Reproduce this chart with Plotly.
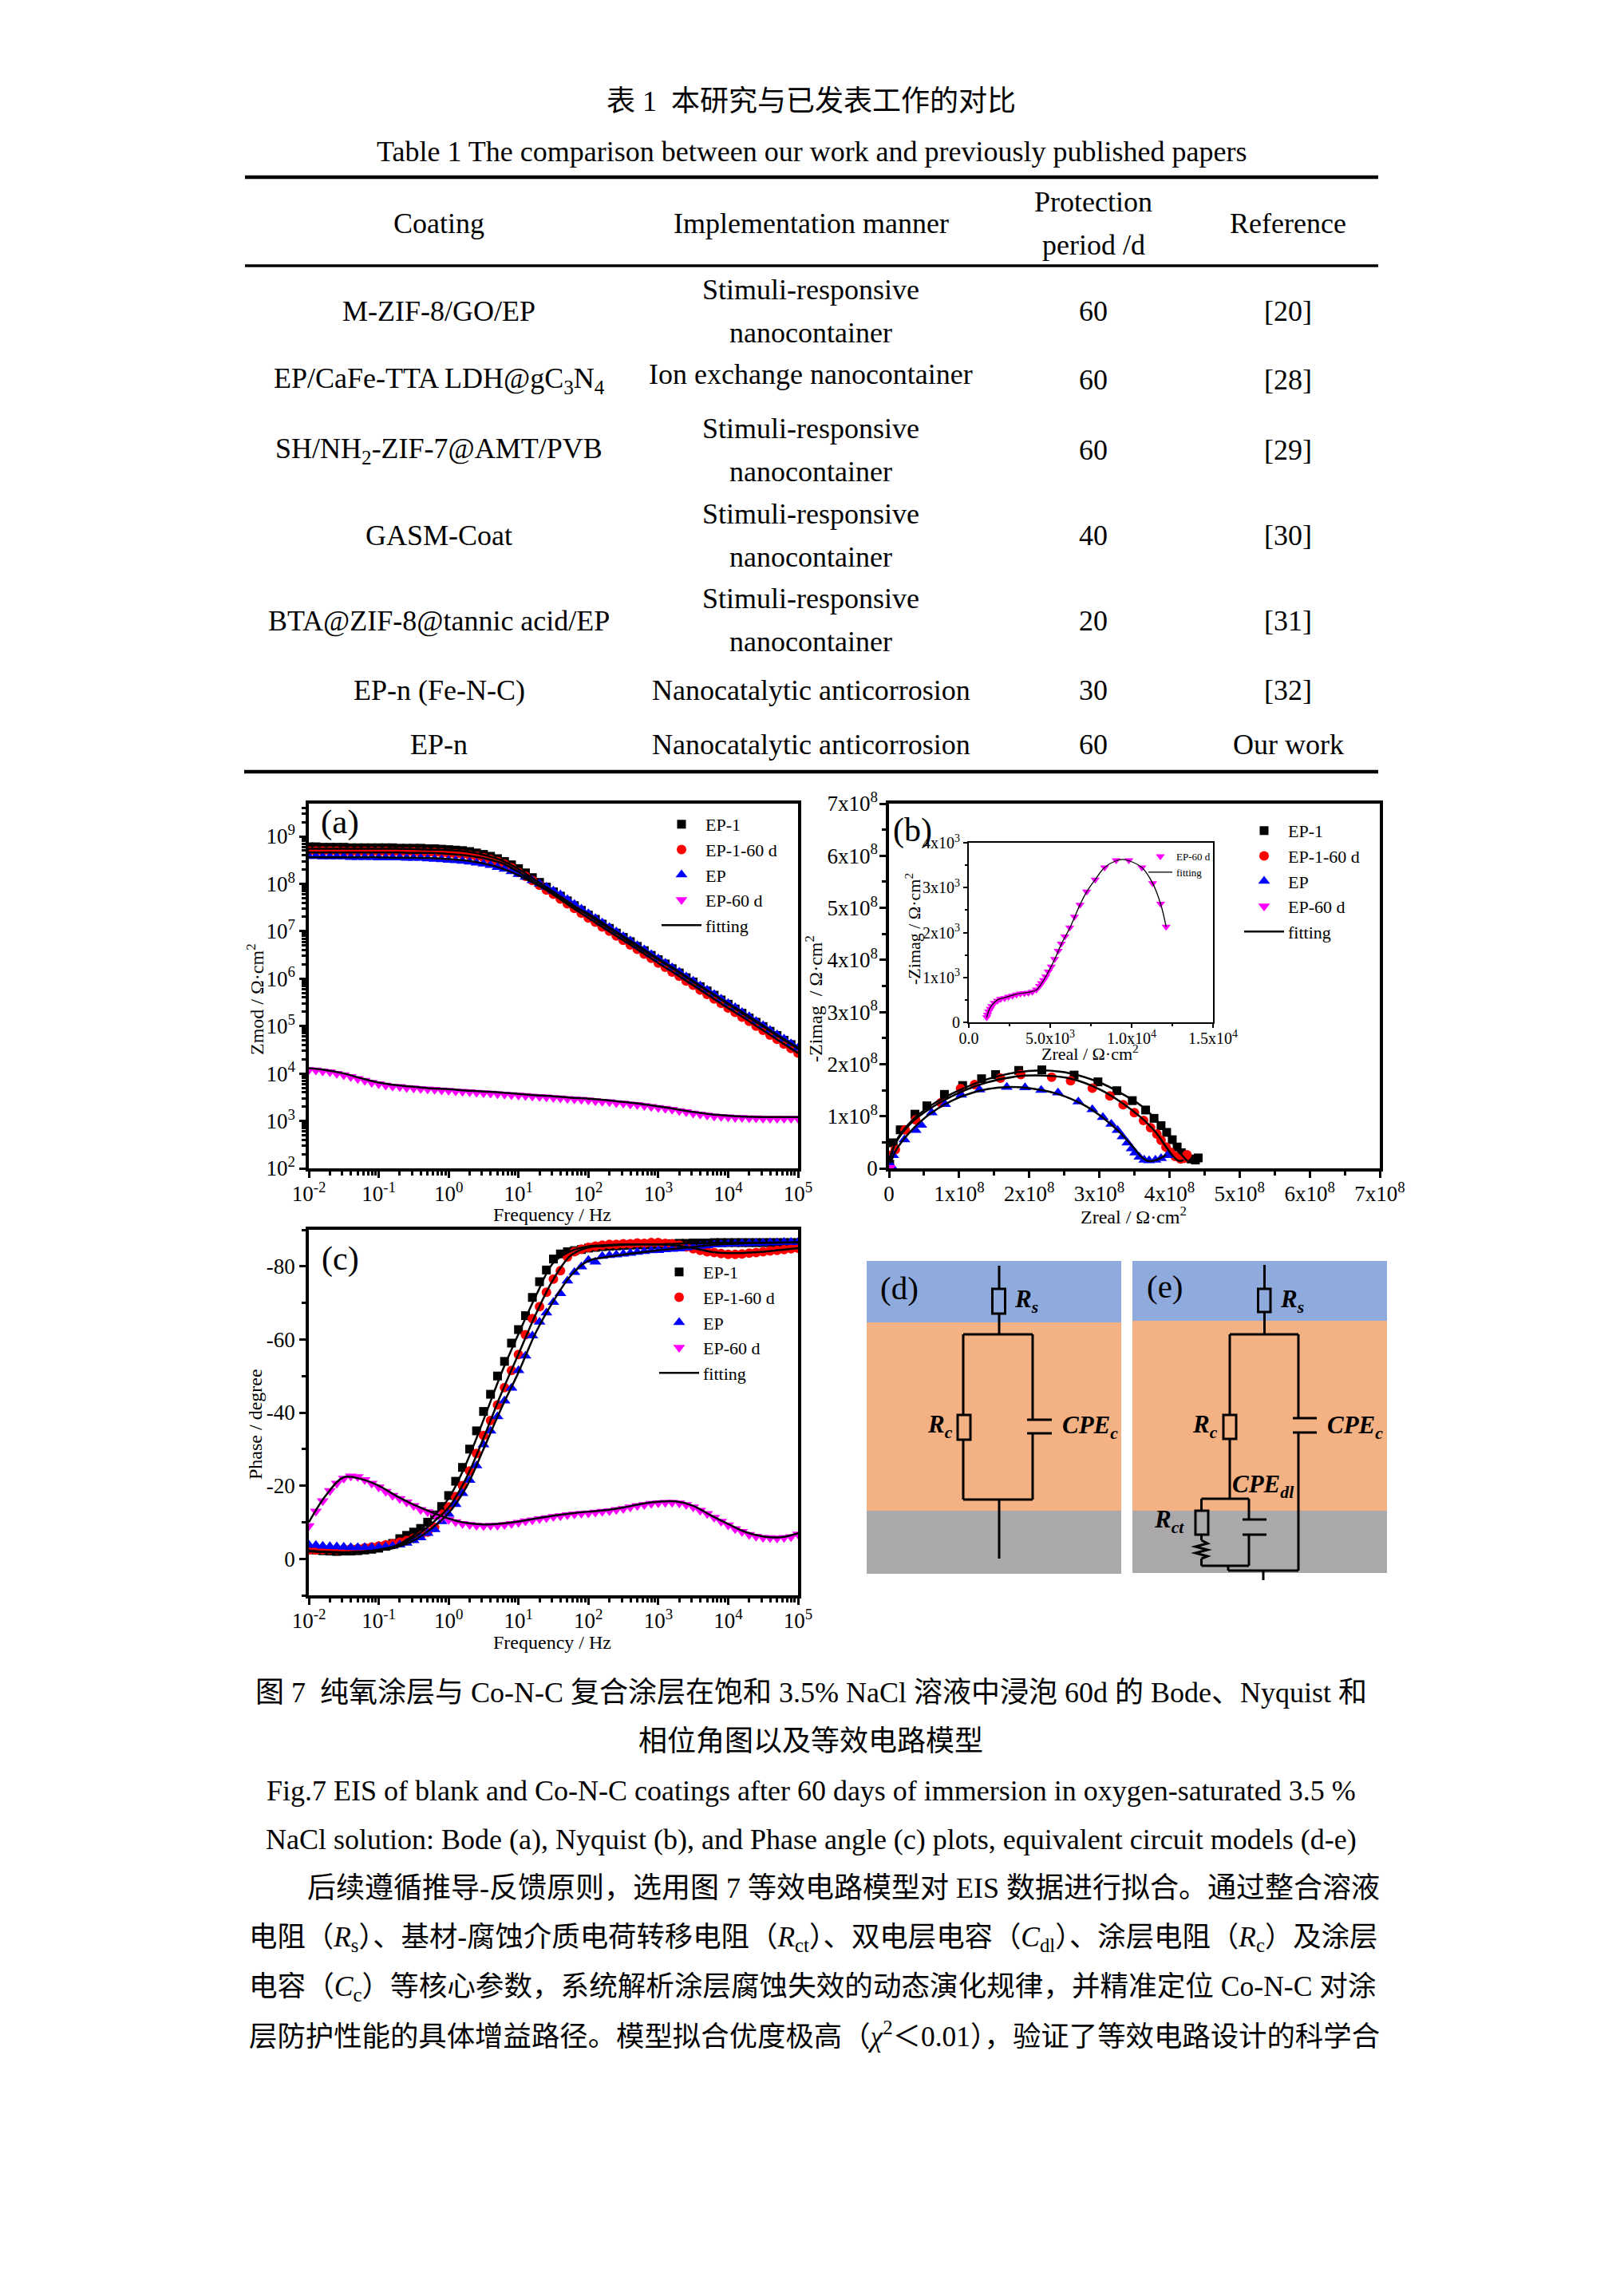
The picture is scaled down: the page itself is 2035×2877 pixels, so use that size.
import plotly.graph_objects as go

W, H = 2035, 2877
SERIF = "Liberation Serif, Times New Roman, Noto Sans CJK SC, serif"
CJK = "Liberation Serif, Noto Sans CJK SC, sans-serif"

# ---------------- chart data ----------------
FREQ = [0.01,0.0126,0.0158,0.02,0.0251,0.0316,0.0398,0.0501,0.0631,0.0794,
        0.1,0.126,0.158,0.2,0.251,0.316,0.398,0.501,0.631,0.794,
        1,1.26,1.58,2,2.51,3.16,3.98,5.01,6.31,7.94,
        10,12.6,15.8,20,25.1,31.6,39.8,50.1,63.1,79.4,
        100,126,158,200,251,316,398,501,631,794,
        1000,1260,1580,2000,2510,3160,3980,5010,6310,7940,
        10000,12600,15800,20000,25100,31600,39800,50100,63100,79400,100000]
FREQ_FIT = [0.01,0.0178,0.0316,0.0562,0.1,0.178,0.316,0.562,1,1.78,3.16,5.62,10,17.8,31.6,56.2,
            100,178,316,562,1000,1780,3160,5620,10000,17800,31600,56200,100000]

# (a) log10 |Z|
LOGZ_EP1 = [8.78,8.78,8.77,8.77,8.77,8.77,8.76,8.76,8.76,8.76,8.76,8.76,8.76,8.75,8.75,8.75,8.75,8.74,8.74,8.73,
            8.72,8.71,8.70,8.68,8.65,8.62,8.58,8.53,8.47,8.40,8.32,8.23,8.13,8.03,7.93,7.83,7.74,7.64,7.54,7.44,
            7.34,7.25,7.15,7.06,6.96,6.87,6.78,6.68,6.59,6.49,6.40,6.31,6.21,6.12,6.02,5.93,5.83,5.74,5.65,5.55,
            5.46,5.36,5.27,5.17,5.08,4.99,4.89,4.80,4.70,4.61,4.52]
LOGZ_EP160 = [8.69,8.69,8.69,8.69,8.69,8.68,8.68,8.68,8.68,8.68,8.68,8.68,8.67,8.67,8.67,8.67,8.66,8.66,8.66,8.65,
              8.64,8.63,8.62,8.60,8.58,8.55,8.51,8.47,8.41,8.34,8.24,8.16,8.07,7.97,7.87,7.78,7.68,7.58,7.48,7.38,
              7.28,7.19,7.09,7.00,6.90,6.81,6.71,6.62,6.52,6.43,6.33,6.24,6.14,6.05,5.95,5.86,5.76,5.67,5.57,5.48,
              5.38,5.29,5.19,5.10,5.00,4.91,4.81,4.72,4.62,4.53,4.43]
LOGZ_EP = [8.58,8.58,8.57,8.57,8.57,8.57,8.56,8.56,8.56,8.56,8.55,8.55,8.55,8.55,8.54,8.54,8.54,8.53,8.52,8.51,
           8.50,8.49,8.48,8.46,8.44,8.42,8.39,8.35,8.31,8.26,8.20,8.14,8.07,8.00,7.93,7.85,7.77,7.67,7.57,7.47,
           7.37,7.27,7.18,7.08,6.99,6.89,6.80,6.70,6.61,6.51,6.42,6.33,6.23,6.14,6.04,5.95,5.85,5.76,5.67,5.57,
           5.48,5.39,5.29,5.20,5.10,5.01,4.91,4.82,4.73,4.63,4.54]
LOGZ_EP60 = [4.08,4.07,4.05,4.03,4.00,3.97,3.93,3.89,3.85,3.81,3.78,3.75,3.73,3.72,3.70,3.69,3.68,3.67,3.66,3.65,
             3.64,3.63,3.62,3.61,3.60,3.59,3.58,3.57,3.56,3.55,3.54,3.53,3.52,3.51,3.50,3.49,3.48,3.47,3.46,3.45,
             3.44,3.42,3.41,3.40,3.38,3.37,3.35,3.34,3.32,3.30,3.28,3.26,3.24,3.21,3.19,3.16,3.14,3.12,3.10,3.09,
             3.08,3.07,3.07,3.06,3.06,3.05,3.05,3.05,3.05,3.05,3.05]
FIT_LOGZ_EP1 = [8.74,8.74,8.74,8.74,8.74,8.74,8.73,8.72,8.71,8.68,8.61,8.50,8.31,8.07,7.83,7.58,7.34,7.10,6.87,6.63,6.40,6.17,5.93,5.70,5.46,5.22,4.99,4.75,4.52]
FIT_LOGZ_EP160 = [8.66,8.66,8.66,8.66,8.66,8.66,8.65,8.65,8.63,8.60,8.54,8.44,8.25,8.02,7.77,7.52,7.28,7.04,6.81,6.57,6.33,6.10,5.86,5.62,5.38,5.15,4.91,4.67,4.43]
FIT_LOGZ_EP = [8.56,8.56,8.56,8.56,8.56,8.55,8.55,8.54,8.52,8.49,8.43,8.33,8.18,7.99,7.79,7.55,7.37,7.13,6.89,6.66,6.42,6.19,5.95,5.71,5.48,5.25,5.01,4.77,4.54]
FIT_LOGZ_EP60 = [4.11,4.07,4.00,3.90,3.81,3.755,3.72,3.685,3.67,3.64,3.62,3.60,3.57,3.54,3.52,3.49,3.47,3.44,3.40,3.36,3.31,3.25,3.19,3.14,3.11,3.09,3.08,3.08,3.08]

# (b) Nyquist, units of 1e8
B_X_EP1 = [0.01,0.06,0.16,0.37,0.54,0.79,1.05,1.32,1.52,1.85,2.18,2.64,2.98,3.25,3.47,3.66,3.78,3.88,3.96,4.04,4.11,4.17,4.24,4.31,4.37,4.41]
B_Y_EP1 = [0.08,0.49,0.74,1.04,1.20,1.42,1.59,1.72,1.80,1.88,1.89,1.79,1.66,1.49,1.30,1.12,0.96,0.82,0.69,0.55,0.41,0.30,0.22,0.18,0.16,0.20]
B_X_EP160 = [0.01,0.09,0.23,0.38,0.74,1.02,1.22,1.59,1.88,2.32,2.59,2.90,3.15,3.34,3.50,3.63,3.73,3.82,3.88,3.95,4.01,4.08,4.16,4.21,4.25]
B_Y_EP160 = [0.25,0.36,0.74,0.93,1.26,1.53,1.61,1.73,1.80,1.75,1.68,1.54,1.39,1.22,1.07,0.92,0.78,0.66,0.54,0.41,0.31,0.23,0.18,0.19,0.26]
B_X_EP = [0.03,0.06,0.22,0.38,0.46,0.61,0.80,1.03,1.29,1.68,1.94,2.17,2.41,2.70,2.90,3.05,3.17,3.26,3.33,3.40,3.46,3.51,3.57,3.64,3.71,3.80,3.88,3.97]
B_Y_EP = [0.05,0.25,0.55,0.73,0.83,1.07,1.23,1.41,1.51,1.56,1.55,1.50,1.45,1.28,1.13,0.98,0.85,0.73,0.61,0.49,0.38,0.30,0.22,0.16,0.15,0.16,0.19,0.25]
FIT_B_X_EP1 = [0.01,0.10,0.30,0.60,1.00,1.40,1.80,2.20,2.60,3.00,3.30,3.60,3.80,4.00,4.10,4.20,4.25,4.30]
FIT_B_Y_EP1 = [0.15,0.52,0.88,1.21,1.50,1.71,1.84,1.88,1.82,1.65,1.45,1.20,0.95,0.60,0.38,0.22,0.15,0.12]
FIT_B_X_EP160 = [0.01,0.10,0.30,0.60,1.00,1.40,1.80,2.20,2.60,3.00,3.30,3.60,3.80,4.00,4.10,4.15,4.20]
FIT_B_Y_EP160 = [0.20,0.50,0.85,1.16,1.45,1.65,1.76,1.78,1.72,1.52,1.28,0.97,0.70,0.32,0.17,0.14,0.16]
FIT_B_X_EP = [0.02,0.10,0.30,0.60,1.00,1.40,1.70,2.00,2.40,2.80,3.10,3.30,3.50,3.60,3.70,3.85,3.95]
FIT_B_Y_EP = [0.10,0.35,0.70,1.06,1.36,1.52,1.56,1.54,1.43,1.20,0.92,0.68,0.38,0.22,0.14,0.18,0.26]

# (b) inset, EP-60 d, units of 1e3
IN_X = [1.10,1.15,1.22,1.32,1.41,1.56,1.76,1.95,2.20,2.44,2.68,2.93,3.17,3.41,3.66,3.90,4.15,4.34,4.46,4.59,4.73,4.88,5.07,5.27,5.49,5.68,5.90,6.20,6.49,6.83,7.24,7.76,8.34,9.05,9.83,10.63,11.29,11.78,12.12]
IN_Y = [0.11,0.17,0.24,0.30,0.36,0.43,0.48,0.52,0.54,0.57,0.59,0.62,0.64,0.65,0.66,0.68,0.73,0.81,0.87,0.94,1.02,1.13,1.24,1.41,1.59,1.75,1.91,2.11,2.35,2.62,2.91,3.18,3.45,3.61,3.61,3.45,3.10,2.64,2.13]
FIT_IN_X = [1.10,1.22,1.41,1.76,2.20,2.93,3.66,4.15,4.46,4.88,5.27,5.68,6.20,6.83,7.24,7.76,8.34,9.05,9.45,9.83,10.63,11.29,11.78,12.12]
FIT_IN_Y = [0.10,0.26,0.38,0.50,0.55,0.63,0.67,0.72,0.86,1.12,1.40,1.74,2.10,2.62,2.91,3.18,3.45,3.60,3.63,3.60,3.45,3.10,2.64,2.13]

# (c) phase, degrees
PH_EP1 = [-2.6,-2.4,-2.2,-2.1,-2.0,-2.1,-2.1,-2.2,-2.4,-2.6,-2.9,-3.4,-4.2,-5.5,-6.4,-7.3,-8.3,-10.0,-12.0,-14.3,
          -17.3,-21.2,-25.0,-30.0,-35.0,-40.3,-45.0,-50.0,-54.0,-59.0,-62.7,-66.5,-71.5,-75.8,-79.0,-82.0,-83.4,-84.0,-84.3,-84.6,
          -85.0,-85.2,-85.4,-85.5,-85.6,-85.7,-85.8,-85.9,-85.9,-86.0,-86.0,-86.1,-86.2,-86.3,-86.3,-86.4,-86.4,-86.4,-86.5,-86.5,
          -86.5,-86.5,-86.5,-86.5,-86.5,-86.5,-86.5,-86.5,-86.5,-86.5,-86.5]
PH_EP160 = [-2.4,-2.4,-2.5,-2.5,-2.5,-2.6,-2.7,-2.8,-3.0,-3.2,-3.5,-3.8,-4.1,-4.5,-5.0,-5.6,-6.4,-7.3,-8.6,-12.2,
            -14.2,-17.0,-20.0,-24.0,-28.8,-33.7,-37.8,-42.1,-46.8,-51.5,-55.9,-61.3,-65.7,-69.0,-72.9,-76.5,-78.8,-82.6,-84.0,-84.7,
            -85.2,-85.5,-85.8,-86.0,-86.0,-86.2,-86.2,-86.4,-86.3,-86.5,-86.5,-86.3,-86.2,-85.8,-85.3,-84.8,-84.4,-84.0,-83.8,-83.5,
            -83.3,-83.3,-83.4,-83.6,-83.8,-84.0,-84.2,-84.4,-84.6,-84.8,-85.0]
PH_EP = [-3.8,-3.7,-3.5,-3.4,-3.3,-3.2,-3.1,-3.1,-3.1,-3.1,-3.2,-3.3,-3.5,-3.8,-4.3,-5.0,-5.8,-7.0,-8.0,-10.2,
         -12.2,-14.9,-17.9,-21.5,-25.5,-31.2,-35.0,-38.9,-43.2,-46.7,-51.5,-55.5,-61.0,-64.8,-67.3,-70.2,-72.6,-76.0,-78.4,-79.9,
         -81.7,-81.2,-82.8,-83.0,-83.2,-83.4,-83.6,-83.9,-84.1,-84.3,-84.4,-84.6,-84.7,-84.8,-85.1,-85.3,-85.5,-85.7,-85.9,-86.0,
         -86.1,-86.2,-86.3,-86.3,-86.4,-86.4,-86.5,-86.5,-86.6,-86.6,-86.6]
PH_EP60 = [-9.0,-13.0,-15.8,-18.6,-20.6,-22.0,-22.6,-22.4,-21.6,-20.6,-19.6,-18.4,-17.3,-16.4,-15.5,-14.5,-13.4,-12.8,-12.1,-11.3,
           -10.7,-10.1,-9.6,-9.3,-9.1,-9.0,-9.1,-9.1,-9.3,-9.6,-9.9,-10.3,-10.6,-10.9,-11.2,-11.5,-11.7,-12.0,-12.2,-12.4,
           -12.5,-12.7,-12.9,-13.1,-13.4,-13.7,-14.1,-14.5,-14.8,-15.1,-15.3,-15.4,-15.4,-15.2,-14.8,-14.1,-13.2,-12.3,-11.3,-10.2,
           -9.2,-8.2,-7.4,-6.6,-6.1,-5.8,-5.7,-5.6,-5.8,-6.0,-6.7]
FIT_PH_EP1 = [-2.2,-1.8,-1.7,-1.9,-2.5,-3.6,-6.5,-11.0,-16.5,-26.0,-38.0,-50.5,-61.5,-72.0,-81.0,-84.2,-85.5,-85.8,-86.0,-86.0,-86.0,-86.2,-86.3,-86.4,-86.5,-86.5,-86.5,-86.5,-86.5]
FIT_PH_EP160 = [-2.0,-1.8,-1.7,-1.9,-2.4,-3.4,-5.8,-9.5,-14.0,-22.0,-33.0,-45.0,-56.0,-67.0,-76.5,-83.0,-85.2,-85.6,-85.9,-86.0,-86.0,-85.7,-85.0,-84.0,-83.6,-83.7,-84.0,-84.5,-85.0]
FIT_PH_EP = [-2.2,-1.9,-1.8,-1.9,-2.3,-3.1,-5.0,-8.2,-12.5,-19.5,-30.0,-41.0,-51.0,-62.0,-70.5,-77.5,-81.5,-82.5,-83.2,-83.8,-84.4,-84.8,-85.3,-85.8,-86.1,-86.3,-86.4,-86.5,-86.6]
FIT_PH_EP60 = [-10.0,-17.5,-22.3,-21.8,-20.0,-17.2,-14.8,-12.8,-11.0,-9.8,-9.4,-9.6,-10.2,-11.0,-11.8,-12.4,-12.9,-13.3,-14.0,-15.0,-15.6,-15.7,-14.5,-11.9,-9.5,-7.3,-6.1,-5.9,-7.0]

SERIES = ["EP-1", "EP-1-60 d", "EP", "EP-60 d"]
COLORS = ["#000000", "#FF0000", "#0000FF", "#FF00FF"]
SYMBOLS = ["square", "circle", "triangle-up", "triangle-down"]

# ---------------- page text ----------------
COATING = ["M-ZIF-8/GO/EP", "EP/CaFe-TTA LDH@gC<sub>3</sub>N<sub>4</sub>", "SH/NH<sub>2</sub>-ZIF-7@AMT/PVB", "GASM-Coat",
           "BTA@ZIF-8@tannic acid/EP", "EP-n (Fe-N-C)", "EP-n"]
MANNER = ["Stimuli-responsive<br>nanocontainer", "Ion exchange nanocontainer", "Stimuli-responsive<br>nanocontainer",
          "Stimuli-responsive<br>nanocontainer", "Stimuli-responsive<br>nanocontainer", "Nanocatalytic anticorrosion",
          "Nanocatalytic anticorrosion"]
PERIOD = ["60", "60", "60", "40", "20", "30", "60"]
REFS = ["[20]", "[28]", "[29]", "[30]", "[31]", "[32]", "Our work"]

ROW_Y = [390, 476, 564, 671, 778, 865, 933]
MANNER_Y = [[363, 417], [469], [537, 591], [644, 698], [750, 804], [865], [933]]
COL_X = [550, 1016, 1370, 1614]

def px(x): return x / W
def py(y): return 1 - y / H

anns, shapes = [], []
def text(x, y, s, size=36, anchor="center", font=SERIF, color="#000", **kw):
    anns.append(dict(x=px(x), y=py(y), xref="paper", yref="paper", text=s, showarrow=False,
                     xanchor=anchor, yanchor="middle", font=dict(family=font, size=size, color=color), **kw))
def line(x0, y0, x1, y1, w=3):
    shapes.append(dict(type="line", xref="paper", yref="paper", x0=px(x0), y0=py(y0), x1=px(x1), y1=py(y1),
                       line=dict(color="#000", width=w)))
def rect(x0, y0, x1, y1, fill=None, w=3):
    shapes.append(dict(type="rect", xref="paper", yref="paper", x0=px(x0), y0=py(y0), x1=px(x1), y1=py(y1),
                       fillcolor=fill if fill else "rgba(0,0,0,0)",
                       line=dict(color="#000", width=w) if not fill else dict(width=0)))

# table
text(1016, 127, "表 1  本研究与已发表工作的对比", font=CJK, size=36)
text(1017, 190, "Table 1 The comparison between our work and previously published papers")
line(307, 222, 1727, 222, 4.5)
line(307, 333, 1727, 333, 3.5)
line(306, 967, 1727, 967, 4.5)
text(COL_X[0], 280, "Coating")
text(COL_X[1], 280, "Implementation manner")
text(COL_X[2], 253, "Protection")
text(COL_X[2], 307, "period /d")
text(COL_X[3], 280, "Reference")
for i in range(7):
    text(COL_X[0], ROW_Y[i], COATING[i])
    for y, s in zip(MANNER_Y[i], MANNER[i].split("<br>")):
        text(COL_X[1], y, s)
    text(COL_X[2], ROW_Y[i], PERIOD[i])
    text(COL_X[3], ROW_Y[i], REFS[i])

# captions
text(1016, 2121, "图 7  纯氧涂层与 Co-N-C 复合涂层在饱和 3.5% NaCl 溶液中浸泡 60d 的 Bode、Nyquist 和", font=CJK)
text(1016, 2182, "相位角图以及等效电路模型", font=CJK)
text(1016, 2244, "Fig.7 EIS of blank and Co-N-C coatings after 60 days of immersion in oxygen-saturated 3.5 %")
text(1016, 2305, "NaCl solution: Bode (a), Nyquist (b), and Phase angle (c) plots, equivalent circuit models (d-e)")
text(383, 2366, "后续遵循推导-反馈原则，选用图 7 等效电路模型对 EIS 数据进行拟合。通过整合溶液", anchor="left", font=CJK, size=36)
text(310, 2429, "电阻（<i>R</i><sub>s</sub>）、基材-腐蚀介质电荷转移电阻（<i>R</i><sub>ct</sub>）、双电层电容（<i>C</i><sub>dl</sub>）、涂层电阻（<i>R</i><sub>c</sub>）及涂层", anchor="left", font=CJK, size=35.4)
text(310, 2491, "电容（<i>C</i><sub>c</sub>）等核心参数，系统解析涂层腐蚀失效的动态演化规律，并精准定位 Co-N-C 对涂", anchor="left", font=CJK, size=35.6)
text(310, 2549, "层防护性能的具体增益路径。模型拟合优度极高（<i>χ</i><sup>2</sup>＜0.01），验证了等效电路设计的科学合", anchor="left", font=CJK, size=35.4)

# panel letters and axis titles
text(426, 1030, "(a)", size=43)
text(1143, 1040, "(b)", size=42)
text(426, 1577, "(c)", size=42)
TT = 24
text(692, 1522, "Frequency / Hz", size=TT)
text(692, 2058, "Frequency / Hz", size=TT)
text(1420, 1523, "Zreal / Ω·cm<sup>2</sup>", size=TT)
text(320, 1252, "Zmod / Ω·cm<sup>2</sup>", size=TT, textangle=-90)
text(1020, 1252, "-Zimag  / Ω·cm<sup>2</sup>", size=TT, textangle=-90)
text(320, 1785, "Phase / degree", size=TT, textangle=-90)
text(1366, 1319, "Zreal / Ω·cm<sup>2</sup>", size=22)
text(1144, 1164, "-Zimag / Ω·cm<sup>2</sup>", size=22, textangle=-90)

# circuit models (d), (e): coloured bands
BLUE, ORANGE, GRAY = "#8FAADC", "#F4B183", "#AAA8AA"
for x0, x1, y1, y2, y3 in [(1086, 1405, 1657, 1893, 1972), (1419, 1738, 1655, 1893, 1971)]:
    rect(x0, 1580, x1, y1, BLUE)
    rect(x0, y1, x1, y2, ORANGE)
    rect(x0, y2, x1, y3, GRAY)
# (d)
line(1252, 1586, 1252, 1615); rect(1243.5, 1615, 1259.5, 1646); line(1252, 1646, 1252, 1672)
line(1207, 1672, 1294, 1672); line(1207, 1672, 1207, 1773); rect(1200, 1773, 1216, 1804)
line(1207, 1804, 1207, 1879); line(1207, 1879, 1294, 1879)
line(1294, 1672, 1294, 1779); line(1287, 1779, 1318, 1779); line(1287, 1796, 1318, 1796); line(1294, 1796, 1294, 1879)
line(1252, 1879, 1252, 1953)
# (e)
line(1584.5, 1585, 1584.5, 1615); rect(1576.5, 1615, 1592, 1644); line(1584.5, 1644, 1584.5, 1672)
line(1541, 1672, 1627, 1672); line(1541, 1672, 1541, 1773); rect(1533, 1773, 1549, 1803); line(1541, 1803, 1541, 1878)
line(1627, 1672, 1627, 1777); line(1620, 1777, 1650, 1777); line(1620, 1795, 1650, 1795); line(1627, 1795, 1627, 1968)
line(1539, 1968, 1627, 1968); line(1583, 1968, 1583, 1980); line(1539, 1962, 1539, 1968)
line(1505.5, 1878, 1565, 1878); line(1505.5, 1878, 1505.5, 1893); rect(1498, 1893, 1514, 1923)
line(1505.5, 1923, 1505.5, 1930)
shapes.append(dict(type="path", xref="paper", yref="paper",
                   path="M %f,%f " % (px(1505.5), py(1930)) + " ".join(
                       "L %f,%f" % (px(a), py(b)) for a, b in
                       [(1513, 1934), (1498, 1938), (1513, 1942), (1498, 1946), (1513, 1950), (1505.5, 1953)]),
                   line=dict(color="#000", width=3)))
line(1505.5, 1953, 1505.5, 1962); line(1505.5, 1962, 1565, 1962)
line(1565, 1878, 1565, 1904); line(1557, 1904, 1587, 1904); line(1557, 1923, 1587, 1923); line(1565, 1923, 1565, 1962)

def lab(x, y, base, sub):
    text(x, y, "<b><i>%s<sub>%s</sub></i></b>" % (base, sub), size=31, anchor="left")
text(1127, 1614, "(d)", size=41)
text(1460, 1612, "(e)", size=41)
lab(1269, 1630, "R", "s"); lab(1160, 1787, "R", "c"); lab(1329, 1788, "CPE", "c")
lab(1602, 1630, "R", "s"); lab(1492, 1787, "R", "c"); lab(1661, 1788, "CPE", "c")
lab(1542, 1862, "CPE", "dl"); lab(1444, 1906, "R", "ct")

# ---------------- figure ----------------
fig = go.Figure()

def add_sets(xs_list, ys_list, fit_x_list, fit_y_list, xa, ya, legend, msize, fit_w):
    for i in range(len(xs_list)):
        fig.add_trace(go.Scatter(x=xs_list[i], y=ys_list[i], mode="markers", name=SERIES[i], xaxis=xa, yaxis=ya,
                                 legend=legend,
                                 marker=dict(symbol=SYMBOLS[i], color=COLORS[i], size=msize[i], line=dict(width=0))))
    for i in range(len(fit_x_list)):
        fig.add_trace(go.Scatter(x=fit_x_list[i], y=fit_y_list[i], mode="lines", name="fitting", xaxis=xa, yaxis=ya,
                                 legend=legend, showlegend=(i == len(fit_x_list) - 1),
                                 line=dict(color="#000", width=fit_w, shape="spline")))

def p10(a): return [10 ** v for v in a]
def e8(a): return [v * 1e8 for v in a]
def e3(a): return [v * 1e3 for v in a]

MS = [11, 12, 13, 13]
add_sets([FREQ] * 4, [p10(LOGZ_EP1), p10(LOGZ_EP160), p10(LOGZ_EP), p10(LOGZ_EP60)],
         [FREQ_FIT] * 4, [p10(FIT_LOGZ_EP1), p10(FIT_LOGZ_EP160), p10(FIT_LOGZ_EP), p10(FIT_LOGZ_EP60)],
         "x", "y", "legend", MS, 2.5)
add_sets([e8(B_X_EP1), e8(B_X_EP160), e8(B_X_EP), e3(IN_X)], [e8(B_Y_EP1), e8(B_Y_EP160), e8(B_Y_EP), e3(IN_Y)],
         [e8(FIT_B_X_EP1), e8(FIT_B_X_EP160), e8(FIT_B_X_EP)], [e8(FIT_B_Y_EP1), e8(FIT_B_Y_EP160), e8(FIT_B_Y_EP)],
         "x2", "y2", "legend2", MS, 2.5)
add_sets([FREQ] * 4, [PH_EP1, PH_EP160, PH_EP, PH_EP60],
         [FREQ_FIT] * 4, [FIT_PH_EP1, FIT_PH_EP160, FIT_PH_EP, FIT_PH_EP60],
         "x3", "y3", "legend3", MS, 2.5)
fig.add_trace(go.Scatter(x=e3(IN_X), y=e3(IN_Y), mode="markers", name="EP-60 d", xaxis="x4", yaxis="y4", legend="legend4",
                         marker=dict(symbol="triangle-down", color="#FF00FF", size=10, line=dict(width=0))))
fig.add_trace(go.Scatter(x=e3(FIT_IN_X), y=e3(FIT_IN_Y), mode="lines", name="fitting", xaxis="x4", yaxis="y4", legend="legend4",
                         line=dict(color="#000", width=1.3, shape="spline")))

TICK = dict(family=SERIF, size=27, color="#000")
SMALL = dict(family=SERIF, size=20, color="#000")

def dom_x(a, b): return [a / W, b / W]
def dom_y(top, bot): return [1 - bot / H, 1 - top / H]
BASE = dict(showline=True, mirror=True, linecolor="#000", showgrid=False, zeroline=False, ticks="outside", tickcolor="#000", automargin=False)

DEC_X = [0.01, 0.1, 1, 10, 100, 1000, 10000, 100000]
DEC_X_LAB = ["10<sup>-2</sup>", "10<sup>-1</sup>", "10<sup>0</sup>", "10<sup>1</sup>", "10<sup>2</sup>", "10<sup>3</sup>", "10<sup>4</sup>", "10<sup>5</sup>"]
MINOR_X = [d * m for d in DEC_X[:-1] for m in range(2, 10)]
DEC_Y = [100, 1e3, 1e4, 1e5, 1e6, 1e7, 1e8, 1e9]
DEC_Y_LAB = ["10<sup>2</sup>", "10<sup>3</sup>", "10<sup>4</sup>", "10<sup>5</sup>", "10<sup>6</sup>", "10<sup>7</sup>", "10<sup>8</sup>", "10<sup>9</sup>"]
MINOR_Y = [d * m for d in DEC_Y for m in range(2, 10) if d * m < 5e9]
LOGMINOR_X = dict(tickvals=MINOR_X, ticks="outside", ticklen=5, tickwidth=2.5, tickcolor="#000")
LOGMINOR_Y = dict(tickvals=MINOR_Y, ticks="outside", ticklen=5, tickwidth=2.5, tickcolor="#000")

NY_VALS = [0, 1e8, 2e8, 3e8, 4e8, 5e8, 6e8, 7e8]
NY_LAB = ["0", "1x10<sup>8</sup>", "2x10<sup>8</sup>", "3x10<sup>8</sup>", "4x10<sup>8</sup>", "5x10<sup>8</sup>", "6x10<sup>8</sup>", "7x10<sup>8</sup>"]
NY_MIN = [0.5e8, 1.5e8, 2.5e8, 3.5e8, 4.5e8, 5.5e8, 6.5e8]
NYMINOR = dict(tickvals=NY_MIN, ticks="outside", ticklen=5, tickwidth=2.5, tickcolor="#000")
PH_MIN = [-90, -70, -50, -30, -10, 10]

fig.update_layout(
    width=W, height=H, margin=dict(l=0, r=0, t=0, b=0), paper_bgcolor="white", plot_bgcolor="white",
    annotations=anns, shapes=shapes, showlegend=True,
    xaxis=dict(BASE, type="log", domain=dom_x(387, 1000), range=[-2, 5], anchor="y", linewidth=3.5, tickwidth=3, ticklen=8,
               tickvals=DEC_X, ticktext=DEC_X_LAB, tickfont=TICK, minor=LOGMINOR_X, ticklabelstandoff=-3),
    yaxis=dict(BASE, type="log", domain=dom_y(1007, 1464), range=[2, 9.69], anchor="x", linewidth=3.5, tickwidth=3, ticklen=8,
               tickvals=DEC_Y, ticktext=DEC_Y_LAB, tickfont=TICK, minor=LOGMINOR_Y),
    xaxis2=dict(BASE, domain=dom_x(1114, 1729), range=[0, 7e8], anchor="y2", linewidth=3.5, tickwidth=3, ticklen=8,
                tickvals=NY_VALS, ticktext=NY_LAB, tickfont=TICK, minor=NYMINOR, ticklabelstandoff=-3),
    yaxis2=dict(BASE, domain=dom_y(1007, 1464), range=[0, 7e8], anchor="x2", linewidth=3.5, tickwidth=3, ticklen=8,
                tickvals=NY_VALS, ticktext=NY_LAB, tickfont=TICK, minor=NYMINOR, ticklabelstandoff=-3),
    xaxis3=dict(BASE, type="log", domain=dom_x(387, 1000), range=[-2, 5], anchor="y3", linewidth=3.5, tickwidth=3, ticklen=8,
                tickvals=DEC_X, ticktext=DEC_X_LAB, tickfont=TICK, minor=LOGMINOR_X, ticklabelstandoff=-3),
    yaxis3=dict(BASE, domain=dom_y(1541, 1999), range=[10, -90], anchor="x3", linewidth=3.5, tickwidth=3, ticklen=8,
                tickvals=[-80, -60, -40, -20, 0], ticktext=["-80", "-60", "-40", "-20", "0"], tickfont=TICK,
                minor=dict(tickvals=PH_MIN, ticks="outside", ticklen=5, tickwidth=2.5, tickcolor="#000")),
    xaxis4=dict(BASE, domain=dom_x(1214, 1520), range=[0, 1.5e4], anchor="y4", linewidth=2, tickwidth=2, ticklen=5,
                tickvals=[0, 5e3, 1e4, 1.5e4], ticktext=["0.0", "5.0x10<sup>3</sup>", "1.0x10<sup>4</sup>", "1.5x10<sup>4</sup>"],
                tickfont=SMALL, minor=dict(tickvals=[2.5e3, 7.5e3, 1.25e4], ticks="outside", ticklen=3, tickwidth=1.5, tickcolor="#000"),
                ticklabelstandoff=-4),
    yaxis4=dict(BASE, domain=dom_y(1056, 1281), range=[0, 4e3], anchor="x4", linewidth=2, tickwidth=2, ticklen=5,
                tickvals=[0, 1e3, 2e3, 3e3, 4e3], ticktext=["0", "1x10<sup>3</sup>", "2x10<sup>3</sup>", "3x10<sup>3</sup>", "4x10<sup>3</sup>"],
                tickfont=SMALL, minor=dict(tickvals=[500, 1500, 2500, 3500], ticks="outside", ticklen=3, tickwidth=1.5, tickcolor="#000")),
    legend=dict(x=px(824), y=py(1012), xanchor="left", yanchor="top", bgcolor="rgba(0,0,0,0)", itemwidth=50,
                font=dict(family=SERIF, size=22, color="#000"), tracegroupgap=0),
    legend2=dict(x=px(1554), y=py(1020), xanchor="left", yanchor="top", bgcolor="rgba(0,0,0,0)", itemwidth=50,
                 font=dict(family=SERIF, size=22, color="#000"), tracegroupgap=0),
    legend3=dict(x=px(821), y=py(1573), xanchor="left", yanchor="top", bgcolor="rgba(0,0,0,0)", itemwidth=50,
                 font=dict(family=SERIF, size=22, color="#000"), tracegroupgap=0),
    legend4=dict(x=px(1434), y=py(1058), xanchor="left", yanchor="top", bgcolor="rgba(0,0,0,0)", itemwidth=30,
                 font=dict(family=SERIF, size=13, color="#000"), tracegroupgap=0),
)

fig.write_html("out.html", config=dict(displayModeBar=False),
               post_script="document.body.style.margin='0';")
